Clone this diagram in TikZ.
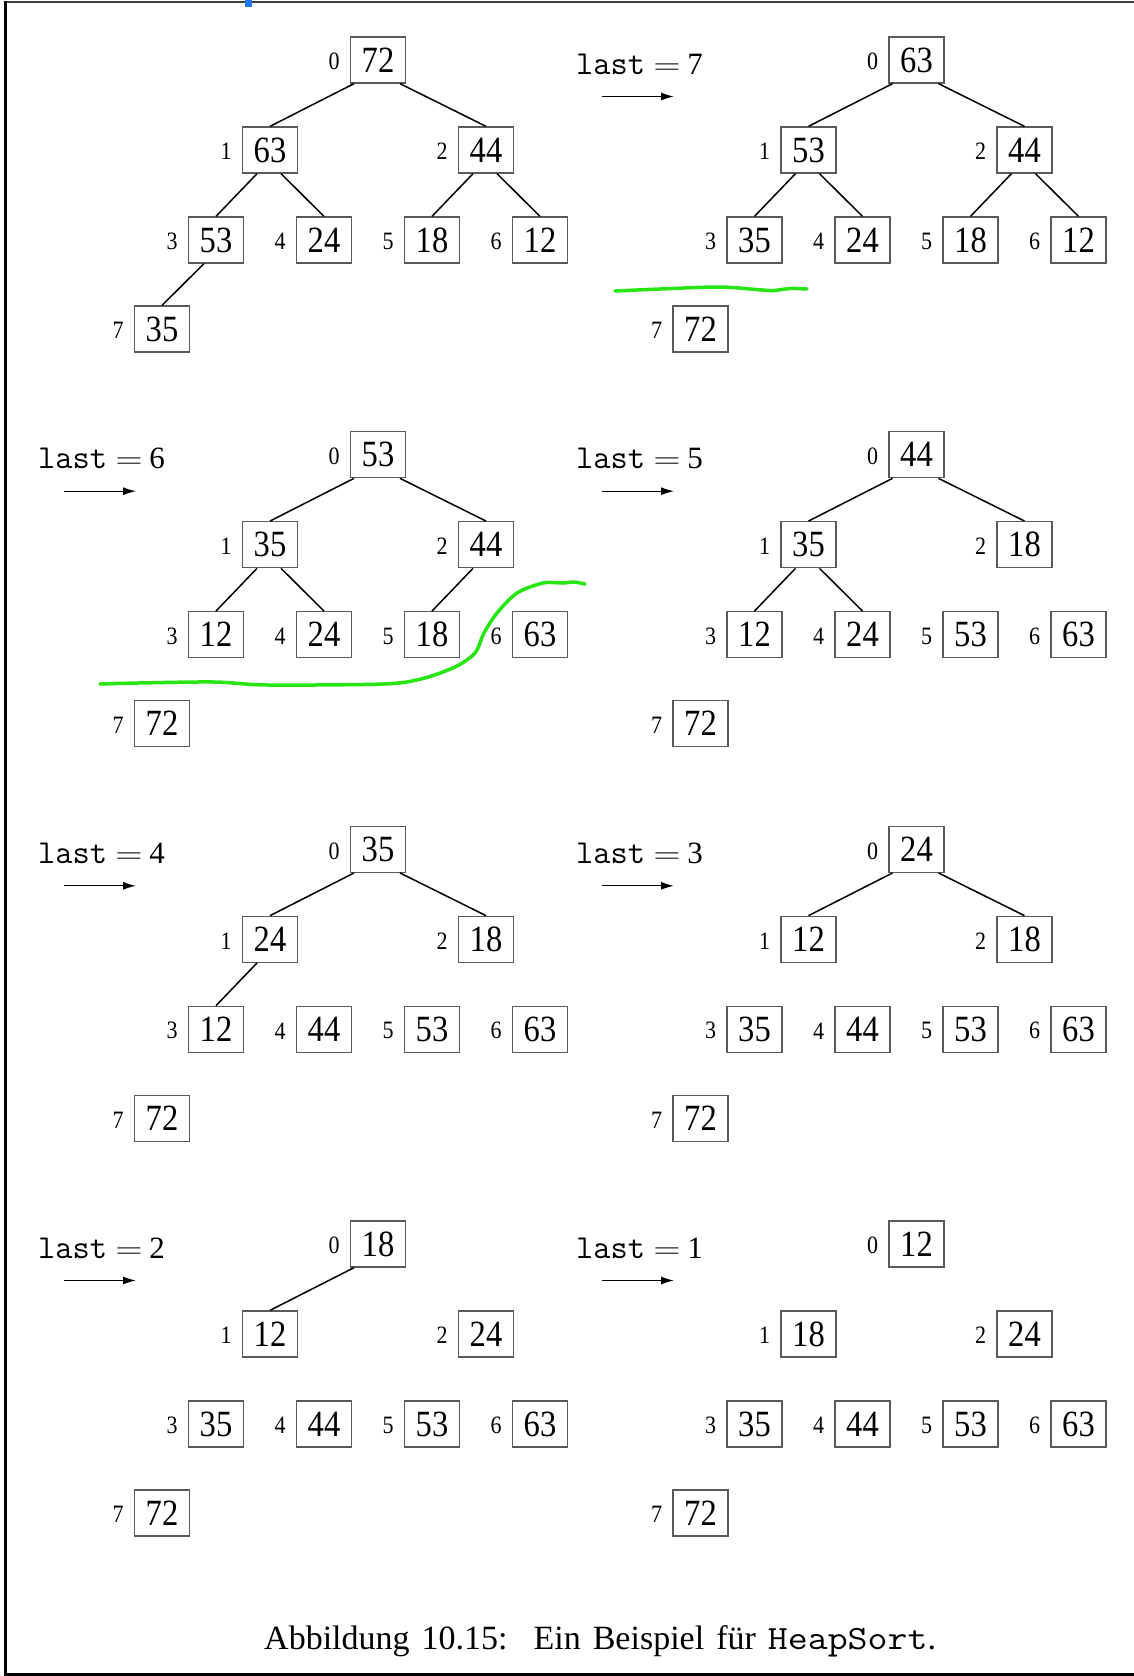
\documentclass[tikz,border=0pt]{standalone}
\usepackage{fontspec}
\usepackage{graphicx}
\setmainfont[FakeStretch=0.88]{Liberation Serif}
\newfontfamily\plainserif{Liberation Serif}
\usetikzlibrary{arrows.meta}
\definecolor{hlgreen}{RGB}{40,230,20}
\definecolor{boxgray}{RGB}{90,90,90}
\definecolor{markblue}{RGB}{30,120,240}
\def\PX{{378,270,486,216,324,432,540,162}}
\def\PY{{60,150,150,240,240,240,240,329}}
\tikzset{
  numbox/.style={draw=boxgray, line width=1.3pt, minimum width=55pt, minimum height=46pt, inner sep=0pt, font=\fontsize{37}{37}\selectfont},
  idxlabel/.style={anchor=east, inner sep=0pt, font=\fontsize{25}{25}\selectfont},
  treeedge/.style={line width=1.5pt, black},
  lastlabel/.style={anchor=base west, inner sep=0pt},
  steparrow/.style={line width=1.3pt, -{Latex[length=13pt,width=8pt]}},
  greenmark/.style={hlgreen, line width=3.5pt, line cap=round, line join=round},
}
\newcommand\heappanel[4]{%
  \begin{scope}[shift={(#2,#3)}]
    \foreach \v [count=\i from 0] in {#4} {
      \pgfmathsetmacro\px{\PX[\i]}
      \pgfmathsetmacro\py{\PY[\i]}
      \node[numbox] (#1n\i) at (\px,\py) {\v};
      \node[idxlabel] (#1i\i) at ([xshift=-10pt,yshift=-1.5pt]#1n\i.west) {\i};
    }
  \end{scope}%
}
\newcommand\heapedges[2]{%
  \foreach \a/\b/\s in {#2} {
    \draw[treeedge] ([xshift=\s pt]#1n\a.south) -- (#1n\b.north);
  }%
}
\newcommand\lastmark[4]{%
  \node[lastlabel] (#1last) at (#2,#3+14) {{\ttfamily\fontsize{33.5}{33.5}\selectfont last}\hspace{8.3pt}{\fontsize{24.88}{24.88}\selectfont\scalebox{1.5}[1.2]{$=$}}\hspace{7pt}{\plainserif\fontsize{31}{31}\selectfont #4}};
  \coordinate (#1as) at (#2+26,#3+36.5);
  \coordinate (#1ae) at (#2+98,#3+36.5);
  \draw[steparrow] (#1as) -- (#1ae);
}
\begin{document}
\begin{tikzpicture}[x=1pt,y=-1pt]
\useasboundingbox (0,0) rectangle (1134,1676);
\fill[white] (0,0) rectangle (1134,1676);
% frame
\draw[line width=1.3pt, black!75] (5,2) -- (1134,2);
\draw[line width=2.6pt, black] (5.3,1) -- (5.3,1675);
\draw[line width=2.6pt, black] (4,1674.6) -- (1134,1674.6);
\fill[markblue] (245,0) rectangle (252,7);

% row 1
\heappanel{A}{0}{0}{72,63,44,53,24,18,12,35}
\heapedges{A}{0/1/-24, 0/2/22, 1/3/-13, 1/4/11, 2/5/-13, 2/6/11, 3/7/-12}
\heappanel{B}{538.5}{0}{63,53,44,35,24,18,12,72}
\heapedges{B}{0/1/-24, 0/2/22, 1/3/-13, 1/4/11, 2/5/-13, 2/6/11}
\lastmark{B}{576}{60}{7}

% row 2
\heappanel{C}{0}{394.7}{53,35,44,12,24,18,63,72}
\heapedges{C}{0/1/-24, 0/2/22, 1/3/-13, 1/4/11, 2/5/-13}
\lastmark{C}{38}{454.7}{6}
\heappanel{D}{538.5}{394.7}{44,35,18,12,24,53,63,72}
\heapedges{D}{0/1/-24, 0/2/22, 1/3/-13, 1/4/11}
\lastmark{D}{576}{454.7}{5}

% row 3
\heappanel{E}{0}{789.3}{35,24,18,12,44,53,63,72}
\heapedges{E}{0/1/-24, 0/2/22, 1/3/-13}
\lastmark{E}{38}{849.3}{4}
\heappanel{F}{538.5}{789.3}{24,12,18,35,44,53,63,72}
\heapedges{F}{0/1/-24, 0/2/22}
\lastmark{F}{576}{849.3}{3}

% row 4
\heappanel{G}{0}{1184}{18,12,24,35,44,53,63,72}
\heapedges{G}{0/1/-24}
\lastmark{G}{38}{1244}{2}
\heappanel{H}{538.5}{1184}{12,18,24,35,44,53,63,72}
\lastmark{H}{576}{1244}{1}

% green hand marks
\draw[greenmark] plot[smooth] coordinates {(615,291) (660,289) (720,287) (762,290) (774,290.5) (790,288.5) (807,289)};
\draw[greenmark] plot[smooth] coordinates {(100,684) (138,683) (214,682) (268,685) (383,684) (421,679) (455,667) (475,653) (484,633) (497,613) (517,593) (543,583) (563,583) (574,582) (585,584)};

% caption
\node[anchor=base west, inner sep=0pt, font=\plainserif\fontsize{34}{34}\selectfont] (caption) at (264,1649) {\spaceskip=12pt Abbildung 10.15:\hspace{26pt}Ein Beispiel für \scalebox{1.14}[1]{\ttfamily HeapSort}.};
\end{tikzpicture}
\end{document}
